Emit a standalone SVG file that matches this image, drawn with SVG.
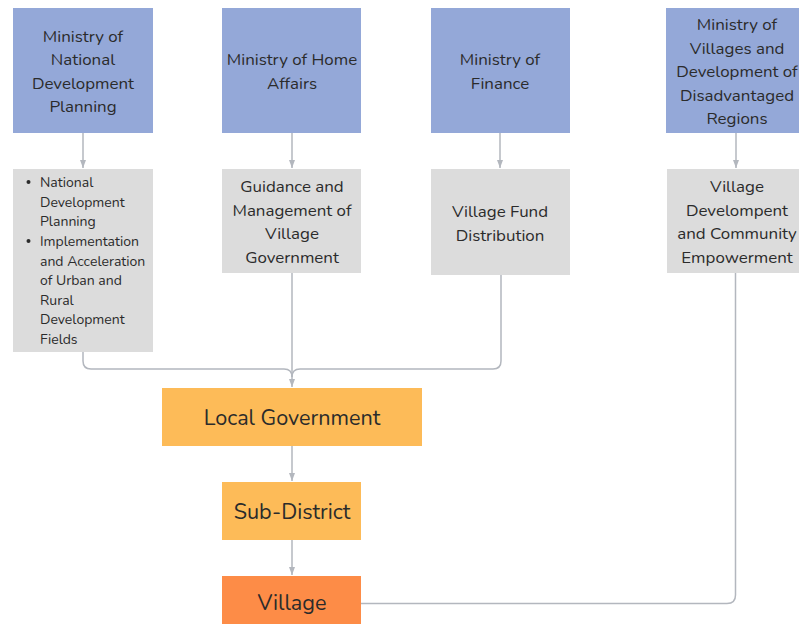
<svg xmlns="http://www.w3.org/2000/svg" width="799" height="624" viewBox="0 0 799 624">
  <defs>
    <style>
      text { font-family: Nunito, Lato, "Noto Sans", sans-serif; fill: #2b2b2b; text-anchor: middle; }
      .ministry { fill: #94a8d8; }
      .task { fill: #dcdcdc; }
      .gov { fill: #fdbb58; }
      .village { fill: #fd8c47; }
      .t16 { font-size: 16.9px; }
      .t13 { font-size: 14px; text-anchor: start; }
      .t20 { font-size: 21.6px; }
      .link { fill: none; stroke: #b3b7be; stroke-width: 1.5; }
    </style>
    <marker id="arrow" viewBox="0 0 8 6" refX="8" refY="3" markerWidth="8" markerHeight="6" markerUnits="userSpaceOnUse" orient="auto">
      <path d="M0,0 L8,3 L0,6 Z" fill="#b3b7be"/>
    </marker>
  </defs>

  <!-- connectors -->
  <g id="connectors">
    <line class="link" x1="83" y1="133" x2="83" y2="168" marker-end="url(#arrow)"/>
    <line class="link" x1="292" y1="133" x2="292" y2="168" marker-end="url(#arrow)"/>
    <line class="link" x1="500" y1="133" x2="500" y2="168" marker-end="url(#arrow)"/>
    <line class="link" x1="736" y1="133" x2="736" y2="168" marker-end="url(#arrow)"/>
    <path class="link" d="M83,352 V361 Q83,369 91,369 H284 Q292,369 292,377"/>
    <path class="link" d="M501,275 V361 Q501,369 493,369 H300 Q292,369 292,377"/>
    <line class="link" x1="292" y1="273" x2="292" y2="387" marker-end="url(#arrow)"/>
    <line class="link" x1="292" y1="446" x2="292" y2="481" marker-end="url(#arrow)"/>
    <line class="link" x1="292" y1="540" x2="292" y2="575" marker-end="url(#arrow)"/>
    <path class="link" d="M361,603.5 H727 Q735.5,603.5 735.5,595 V273"/>
  </g>

  <!-- ministries -->
  <g id="ministry-planning">
    <rect class="ministry" x="13" y="8" width="140" height="125"/>
    <text class="t16" x="83" y="41.5">Ministry of</text>
    <text class="t16" x="83" y="65">National</text>
    <text class="t16" x="83" y="88.5">Development</text>
    <text class="t16" x="83" y="112">Planning</text>
  </g>
  <g id="ministry-home">
    <rect class="ministry" x="222" y="8" width="139" height="125"/>
    <text class="t16" x="292" y="65">Ministry of Home</text>
    <text class="t16" x="292" y="88.5">Affairs</text>
  </g>
  <g id="ministry-finance">
    <rect class="ministry" x="431" y="8" width="139" height="125"/>
    <text class="t16" x="500" y="65">Ministry of</text>
    <text class="t16" x="500" y="88.5">Finance</text>
  </g>
  <g id="ministry-villages">
    <rect class="ministry" x="666" y="8" width="140" height="125"/>
    <text class="t16" x="737" y="30">Ministry of</text>
    <text class="t16" x="737" y="53.5">Villages and</text>
    <text class="t16" x="737" y="77">Development of</text>
    <text class="t16" x="737" y="100.5">Disadvantaged</text>
    <text class="t16" x="737" y="123.5">Regions</text>
  </g>

  <!-- responsibilities -->
  <g id="task-planning">
    <rect class="task" x="13" y="169" width="140" height="183"/>
    <circle cx="28.5" cy="182" r="2" fill="#2b2b2b"/>
    <circle cx="28.5" cy="241" r="2" fill="#2b2b2b"/>
    <text class="t13" x="40" y="187">National</text>
    <text class="t13" x="40" y="206.5">Development</text>
    <text class="t13" x="40" y="226">Planning</text>
    <text class="t13" x="40" y="246">Implementation</text>
    <text class="t13" x="40" y="265.5">and Acceleration</text>
    <text class="t13" x="40" y="285">of Urban and</text>
    <text class="t13" x="40" y="304.5">Rural</text>
    <text class="t13" x="40" y="324">Development</text>
    <text class="t13" x="40" y="343.5">Fields</text>
  </g>
  <g id="task-guidance">
    <rect class="task" x="222" y="169" width="139" height="104"/>
    <text class="t16" x="292" y="192">Guidance and</text>
    <text class="t16" x="292" y="215.5">Management of</text>
    <text class="t16" x="292" y="239">Village</text>
    <text class="t16" x="292" y="262.5">Government</text>
  </g>
  <g id="task-fund">
    <rect class="task" x="431" y="169" width="139" height="106"/>
    <text class="t16" x="500" y="217">Village Fund</text>
    <text class="t16" x="500" y="240.5">Distribution</text>
  </g>
  <g id="task-empowerment">
    <rect class="task" x="667" y="169" width="139" height="104"/>
    <text class="t16" x="737" y="192">Village</text>
    <text class="t16" x="737" y="215.5">Develompent</text>
    <text class="t16" x="737" y="239">and Community</text>
    <text class="t16" x="737" y="262.5">Empowerment</text>
  </g>

  <!-- government levels -->
  <g id="local-government">
    <rect class="gov" x="162" y="388" width="260" height="58"/>
    <text class="t20" x="292" y="424.5">Local Government</text>
  </g>
  <g id="sub-district">
    <rect class="gov" x="222" y="482" width="139" height="58"/>
    <text class="t20" x="292" y="518.5">Sub-District</text>
  </g>
  <g id="village">
    <rect class="village" x="222" y="576" width="139" height="58"/>
    <text class="t20" x="292" y="609.5">Village</text>
  </g>
</svg>
